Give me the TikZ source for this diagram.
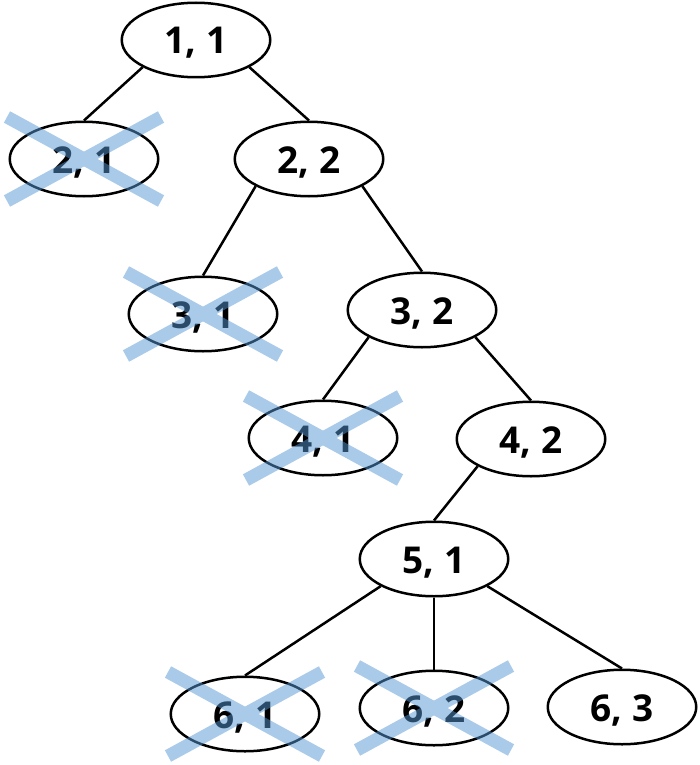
\documentclass[tikz,border=0pt]{standalone}
\usepackage{fontspec}
\setmainfont{Open Sans}
\usetikzlibrary{shapes.geometric}
\definecolor{crossblue}{RGB}{86,150,212}
\tikzset{
  st/.style={ellipse, draw, line width=2.5pt, minimum width=148.5pt, minimum height=74.5pt,
    inner sep=0pt, font=\bfseries\fontsize{37}{42}\selectfont, text height=28pt, text depth=0pt},
  edge/.style={line width=2.5pt},
  xmark/.style={draw=crossblue, line width=13pt, opacity=0.5}
}
\begin{document}
\begin{tikzpicture}[x=1pt,y=-1pt]
\useasboundingbox (0,0) rectangle (699,765);
\node[st] (n11) at (196,40) {1, 1};
\node[st] (n21) at (84,159) {2, 1};
\node[st] (n22) at (309,159) {2, 2};
\node[st] (n31) at (203,314) {3, 1};
\node[st] (n32) at (422,310) {3, 2};
\node[st] (n41) at (323,438) {4, 1};
\node[st] (n42) at (531,439) {4, 2};
\node[st] (n51) at (434,559) {5, 1};
\node[st] (n61) at (245,714) {6, 1};
\node[st] (n62) at (434,708) {6, 2};
\node[st] (n63) at (622,707) {6, 3};
\draw[edge] (n11.south west) -- (n21.north);
\draw[edge] (n11.south east) -- (n22.north);
\draw[edge] (n22.south west) -- (n31.north);
\draw[edge] (n22.south east) -- (n32.north);
\draw[edge] (n32.south west) -- (n41.north);
\draw[edge] (n32.south east) -- (n42.north);
\draw[edge] (n42.south west) -- (n51.north);
\draw[edge] (n51.south west) -- (n61.north);
\draw[edge] (n51.south) -- (n62.north);
\draw[edge] (n51.south east) -- (n63.north);
\foreach \n in {n21,n31,n41,n61,n62}{
  \draw[xmark] ([shift={(-77,-42)}]\n.center) -- ([shift={(77,42)}]\n.center)
               ([shift={(-77,42)}]\n.center) -- ([shift={(77,-42)}]\n.center);
}
\end{tikzpicture}
\end{document}
